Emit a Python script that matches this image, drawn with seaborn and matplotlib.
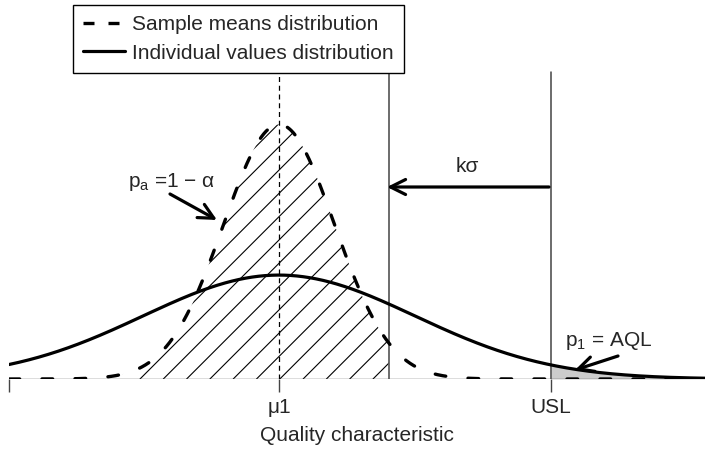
import numpy as np
import pandas as pd
import matplotlib
matplotlib.use("Agg")
import matplotlib.pyplot as plt
import seaborn as sns
from matplotlib.lines import Line2D

# ---- data (schematic parameters, in units of the individual sigma) ----
mu = 0.0            # process mean (mu1)
sigma = 1.0         # individual values standard deviation
n_sample = 6        # sample size -> sample means sigma = sigma/sqrt(n)
k_sigma = 1.19      # distance USL - acceptance limit (k sigma)
usl = 2.0           # upper specification limit
tick_labels = ["", "\u03bc1", "USL"]
legend_labels = ["Sample means distribution", "Individual values distribution"]
x_label = "Quality characteristic"

sns.set_theme(style="white")
plt.rcParams["font.family"] = ["Liberation Sans", "DejaVu Sans"]
plt.rcParams["mathtext.fontset"] = "custom"
plt.rcParams["mathtext.rm"] = "Liberation Sans"
plt.rcParams["mathtext.it"] = "Liberation Sans"

FS = 15
W, H = 705, 454
fig = plt.figure(figsize=(W / 100, H / 100), dpi=100)

# pixel geometry of the reference
px_left, px_mu, px_base = 9, 279, 379
sx, sy = 136.0, 260.5          # px per data unit
xlim = ((px_left - px_mu) / sx, (W - px_mu) / sx)
ylim = (0, px_base / sy)
ax = fig.add_axes([px_left / W, (H - px_base) / H, 1 - px_left / W, px_base / H])
ax.set_xlim(*xlim)
ax.set_ylim(*ylim)

def P(px, py):
    return ((px - px_mu) / sx, (px_base - py) / sy)

def npdf(x, m, s):
    return np.exp(-0.5 * ((x - m) / s) ** 2) / (s * np.sqrt(2 * np.pi))

acc_limit = usl - k_sigma
s_mean = sigma / np.sqrt(n_sample)
xs = np.linspace(xlim[0], xlim[1], 1200)
df = pd.DataFrame({"x": xs,
                   "means": npdf(xs, mu, s_mean),
                   "indiv": npdf(xs, mu, sigma)})

# gray tail beyond USL
tail = df[df.x >= usl]
ax.fill_between(tail.x, 0, tail.indiv, color="#cccccc", lw=0, zorder=1)

# hatched acceptance region under sample means curve
reg = df[(df.x >= -1.15) & (df.x <= acc_limit)]
poly = ax.fill_between(reg.x, 0, reg.means, facecolor="none", lw=0, zorder=1)
clip_path = poly.get_paths()[0]
slope = sx / sy  # 45 degrees on screen
x0 = (140 - px_mu) / sx
step = 23.3 / sx
for i in range(-5, 30):
    xa = x0 + i * step
    xb = xa + 1.6 / slope
    ln, = ax.plot([xa, xb], [0, 1.6], color="black", lw=0.8, zorder=2)
    ln.set_clip_path(clip_path, ax.transData)

# baseline
ax.axhline(0, color="#555555", lw=1.0, zorder=2)

# vertical lines
top_y = P(0, 72)[1]
ax.plot([mu, mu], [0, top_y], color="black", lw=0.9, ls=(0, (4, 3)), zorder=2)
ax.plot([acc_limit, acc_limit], [0, top_y], color="#444444", lw=1.1, zorder=2)
ax.plot([usl, usl], [0, top_y], color="#444444", lw=1.1, zorder=2)

# curves
sns.lineplot(data=df, x="x", y="indiv", ax=ax, color="black", lw=2.3, zorder=4)
ln_means = sns.lineplot(data=df, x="x", y="means", ax=ax, color="black", lw=2.4, zorder=4).lines[-1]
ln_means.set_linestyle((0, (3.2, 6.7)))
ln_means.set_dash_capstyle("round")

# ticks
ax.set_xticks([xlim[0], mu, usl])
ax.set_xticklabels(tick_labels, fontsize=FS)
ax.set_yticks([])
ax.tick_params(axis="x", direction="out", length=9.5, width=1.0, color="#444444",
               pad=4, bottom=True)
for side in ["top", "left", "right", "bottom"]:
    ax.spines[side].set_visible(False)
ax.set_xlabel(x_label, fontsize=FS, labelpad=7)
ax.set_ylabel("")

arrow_kw = dict(arrowstyle="->,head_length=0.9,head_width=0.45",
                color="black", lw=2.3, shrinkA=0, shrinkB=0)

# k sigma arrow
ax.annotate("", xy=P(387, 187), xytext=P(549, 187), arrowprops=arrow_kw)
ax.text(*P(467, 167), "k\u03c3", fontsize=FS, ha="center", va="center")

# p_a arrow and label
ax.text(*P(128, 187), "p$_\\mathregular{a}$ =1 \u2212 \u03b1", fontsize=FS,
        ha="left", va="baseline")
ax.annotate("", xy=P(217, 220), xytext=P(170, 194), arrowprops=arrow_kw)

# p1 arrow and label
ax.text(*P(565, 346), "p$_\\mathregular{1}$ = AQL", fontsize=FS,
        ha="left", va="baseline")
ax.annotate("", xy=P(575, 370), xytext=P(618, 356), arrowprops=arrow_kw)

# legend
handles = [Line2D([], [], color="black", lw=2.4, ls=(0, (3.3, 4.2))),
           Line2D([], [], color="black", lw=2.3)]
leg = ax.legend(handles, legend_labels, loc="upper left",
                bbox_to_anchor=((73 - px_left) / (W - px_left), 1 - 5 / px_base),
                borderaxespad=0, frameon=True, fancybox=False, framealpha=1,
                edgecolor="black", fontsize=FS, handlelength=2.0,
                handletextpad=0.35, borderpad=0.5, labelspacing=0.45)
leg.get_frame().set_linewidth(1.0)

fig.savefig("out.png", dpi=100)
